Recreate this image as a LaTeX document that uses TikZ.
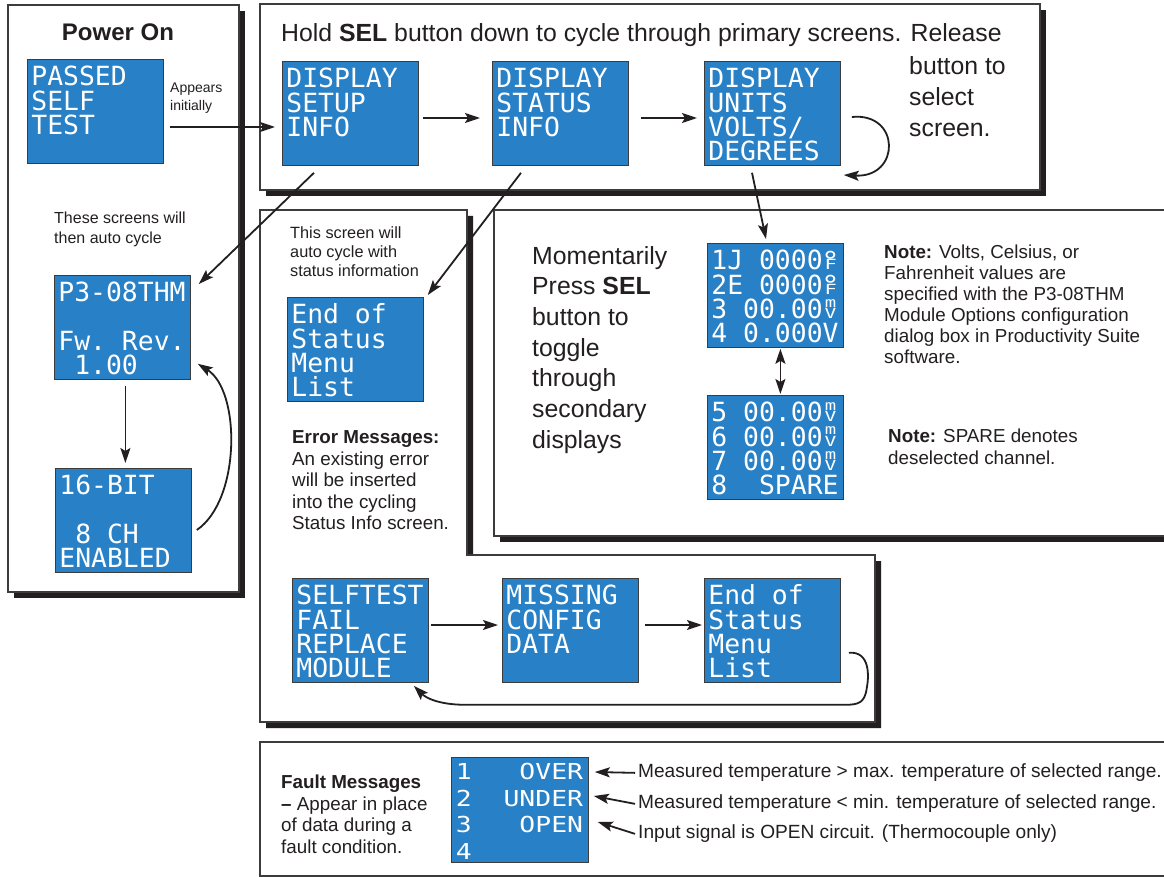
\documentclass[tikz,border=0pt]{standalone}
\usepackage{fontspec}
\usepackage{graphicx}
\setmainfont{Liberation Sans}
\newfontfamily\lcdf{DejaVu Sans Mono}
\newfontfamily\lcdn[FakeStretch=1.2]{DejaVu Sans Mono}
\usetikzlibrary{arrows.meta,calc}
\definecolor{scrblue}{RGB}{40,128,198}
\definecolor{ink}{RGB}{35,31,32}
\definecolor{frame}{RGB}{60,60,60}
\newcommand\bk{\phantom{0}}
\newcommand\cellst[2]{\makebox[0.602em][c]{\vbox{\offinterlineskip\hbox to 0.602em{\hss#1\hss}\vskip1pt\hbox to 0.602em{\hss#2\hss}}}}
\newcommand\cdF{\cellst{\fontsize{26}{26}\selectfont\raisebox{-11.6pt}[7pt][0pt]{\scalebox{1.2}[1]{°}}}{\fontsize{14}{14}\selectfont\scalebox{1.45}[1]{F}}}
\newcommand\cmV{\cellst{\fontsize{14}{14}\selectfont\scalebox{1.35}[1]{m}}{\fontsize{14}{14}\selectfont\scalebox{1.4}[1]{V}}}
\newcommand\scr[1]{\parbox[t][92pt][t]{128pt}{\lcdf\fontsize{26.4}{24.3}\selectfont\raggedright\hyphenpenalty=10000 \exhyphenpenalty=10000 \rule{0pt}{20.5pt}#1}}
\newcommand\scrn[1]{\parbox[t][93pt][t]{128pt}{\lcdn\fontsize{22}{26.5}\selectfont\raggedright\hyphenpenalty=10000 \exhyphenpenalty=10000 \rule{0pt}{15pt}#1}}
\newcommand\tstrut{\rule{0pt}{0.8em}}
\newcommand\fs[2]{\fontsize{#1}{#2}\selectfont}
\begin{document}
\begin{tikzpicture}[x=1pt,y=-1pt,
  panel/.style={fill=white, draw=frame, line width=1.2pt},
  shadowfill/.style={fill=ink},
  screen/.style={anchor=north west, draw=frame, line width=0.8pt, fill=scrblue, text=white, inner xsep=4pt, inner ysep=6pt},
  fscreen/.style={screen, inner xsep=4.5pt},
  txt/.style={text=ink, inner sep=0pt, align=left, anchor=north west},
  ltxt/.style={text=ink, inner sep=0pt, anchor=base west},
  arr/.style={-{Stealth[length=15pt,width=10pt,inset=3pt]}, line width=1.8pt, draw=ink},
  dbl/.style={{Stealth[length=15pt,width=10pt,inset=3pt]}-{Stealth[length=15pt,width=10pt,inset=3pt]}, line width=1.8pt, draw=ink}]
\clip (0,0) rectangle (1164,877);
\fill[white] (0,0) rectangle (1164,877);
% panels
\fill[shadowfill] (14,11) rectangle (245,598);
\filldraw[panel] (8,5) rectangle (239,592);
\fill[shadowfill] (266,10) rectangle (1046,196);
\filldraw[panel] (260,4) rectangle (1040,190);
\fill[shadowfill] (266,216) -- (473,216) -- (473,561) -- (881,561) -- (881,728) -- (266,728) -- cycle;
\filldraw[panel] (260,210) -- (467,210) -- (467,555) -- (875,555) -- (875,722) -- (260,722) -- cycle;
\fill[shadowfill] (500,216) rectangle (1175,542);
\filldraw[panel] (494,210) rectangle (1175,536);
\filldraw[panel] (260,742) rectangle (1175,876);
% screens
\node[screen] (pst) at (27,59) {\scr{PASSED\\SELF\\TEST}};
\node[screen] (dsetup) at (282,61) {\scr{DISPLAY\\SETUP\\INFO}};
\node[screen] (dstatus) at (492,61) {\scr{DISPLAY\\STATUS\\INFO}};
\node[screen] (dunits) at (704,61) {\scr{DISPLAY\\UNITS\\VOLTS/\\DEGREES}};
\node[screen] (p3) at (54,275) {\scr{P3-08THM\\\bk\\Fw.\bk Rev.\\\bk 1.00}};
\node[screen] (bit16) at (55,468) {\scr{16-BIT\\\bk\\\bk 8\bk CH\\ENABLED}};
\node[screen] (eos1) at (287,297) {\scr{End\bk of\\Status\\Menu\\List}};
\node[screen] (ch14) at (707,243) {\scr{1J\bk 0000\cdF\\2E\bk 0000\cdF\\3\bk 00.00\cmV\\4\bk 0.000V}};
\node[screen] (ch58) at (707,395) {\scr{5\bk 00.00\cmV\\6\bk 00.00\cmV\\7\bk 00.00\cmV\\8\bk\bk SPARE}};
\node[screen] (selft) at (292,578) {\scr{SELFTEST\\FAIL\\REPLACE\\MODULE}};
\node[screen] (missing) at (502,578) {\scr{MISSING\\CONFIG\\DATA}};
\node[screen] (eos2) at (704,578) {\scr{End\bk of\\Status\\Menu\\List}};
\node[fscreen] (fault) at (451,757) {\scrn{1\bk\bk\bk OVER\\2\bk\bk UNDER\\3\bk\bk\bk OPEN\\4}};
% texts
\node[text=ink, inner sep=0pt, font=\fs{24}{28}\bfseries] (power) at (118,32) {Power On};
\node[txt, font=\fs{14}{18.5}] (appear) at (170,80.8) {\tstrut Appears\\initially};
\node[txt, font=\fs{16}{19.5}] (these) at (54,210.9) {\tstrut These screens will\\then auto cycle};
\node[ltxt, font=\fs{24.8}{30}] (hold) at (281,41.9) {Hold \textbf{SEL} button down to cycle through primary screens. Release};
\node[txt, font=\fs{24.8}{31}] (btnsel) at (909,54) {\tstrut button to\\select\\screen.};
\node[txt, font=\fs{16.3}{19}] (thisscr) at (290,224.8) {\tstrut This screen will\\auto cycle with\\status information};
\node[txt, font=\fs{18.8}{21.5}] (errmsg) at (292,428.7) {\tstrut\textbf{Error Messages:}\\An existing error\\will be inserted\\into the cycling\\Status Info screen.};
\node[txt, font=\fs{24.8}{30.7}] (moment) at (532,244) {\tstrut Momentarily\\Press \textbf{SEL}\\button to\\toggle\\through\\secondary\\displays};
\node[txt, font=\fs{18.8}{21}] (note1) at (884,243.7) {\tstrut\textbf{Note:} Volts, Celsius, or\\Fahrenheit values are\\specified with the P3-08THM\\Module Options configuration\\dialog box in Productivity Suite\\software.};
\node[txt, font=\fs{18.8}{22}] (note2) at (888,427.7) {\tstrut\textbf{Note:} SPARE denotes\\deselected channel.};
\node[txt, font=\fs{18.8}{21.5}] (faultm) at (281,773.7) {\tstrut\textbf{Fault Messages}\\\textbf{–} Appear in place\\of data during a\\fault condition.};
\node[ltxt, font=\fs{19.1}{22}] (f1) at (638,777.8) {Measured temperature > max. temperature of selected range.};
\node[ltxt, font=\fs{19.1}{22}] (f2) at (638,808.8) {Measured temperature < min. temperature of selected range.};
\node[ltxt, font=\fs{19.1}{22}] (f3) at (638,838.8) {Input signal is OPEN circuit. (Thermocouple only)};
% connectors
\draw[arr] ($(pst.north east)+(6,68)$) -- ($(dsetup.north west)+(-7,66)$);
\draw[arr] ($(dsetup.north east)+(4,57)$) -- ($(dstatus.north west)+(-12,57)$);
\draw[arr] ($(dstatus.north east)+(12,57)$) -- ($(dunits.north west)+(-7,57)$);
\draw[arr] ($(dunits.north east)+(11,56)$) .. controls ($(dunits.north east)+(60,51)$) and ($(dunits.north east)+(60,117)$) .. ($(dunits.north east)+(3,114)$);
\draw[arr] ($(dsetup.south west)+(32,7)$) -- ($(p3.north east)+(8,9)$);
\draw[arr] ($(dstatus.south west)+(29,7)$) -- ($(eos1.north east)+(4,-2)$);
\draw[arr] ($(dunits.south west)+(48,7)$) -- ($(ch14.north west)+(59,-4)$);
\draw[arr] ($(p3.south)+(3,6)$) -- ($(bit16.north)+(2,-5)$);
\draw[arr] ($(bit16.north east)+(5,62)$) .. controls ($(bit16.north east)+(49,32)$) and ($(p3.south east)+(50,11)$) .. ($(p3.south east)+(7,-16)$);
\draw[dbl] ($(ch14.south)+(5,1)$) -- ($(ch58.north)+(5,-1)$);
\draw[arr] ($(selft.north east)+(2,47)$) -- ($(missing.north west)+(-4,47)$);
\draw[arr] ($(missing.north east)+(6,47)$) -- ($(eos2.north west)+(-2,47)$);
\draw[arr] ($(eos2.south east)+(8,-30)$) .. controls ($(eos2.south east)+(30,-32)$) and ($(eos2.south east)+(28,-5)$) .. ($(eos2.south east)+(26,5)$) .. controls ($(eos2.south east)+(24,20)$) and ($(eos2.south east)+(18,22)$) .. ($(eos2.south east)+(4,22)$) -- ($(selft.south east)+(37,22)$) .. controls ($(selft.south east)+(10,22)$) and ($(selft.south east)+(-3,15)$) .. ($(selft.south east)+(-15,3)$);
\draw[arr] ($(f1.west)+(-3,0)$) -- ($(fault.north east)+(6,15)$);
\draw[arr] ($(f2.west)+(-3,0)$) -- ($(fault.north east)+(5,39)$);
\draw[arr] ($(f3.west)+(-3,0)$) -- ($(fault.north east)+(9,65)$);
\end{tikzpicture}
\end{document}
